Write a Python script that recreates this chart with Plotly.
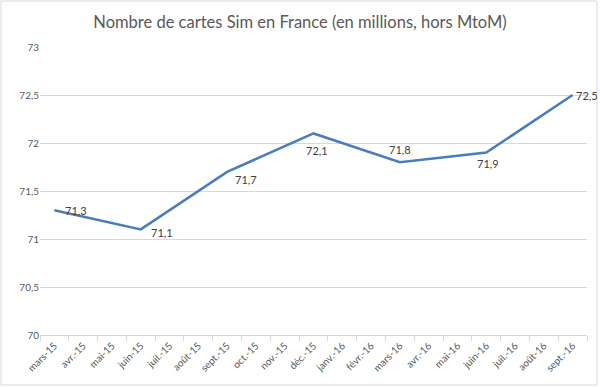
import plotly.graph_objects as go

months = ["mars-15", "avr.-15", "mai-15", "juin-15", "juil.-15", "août-15", "sept.-15",
          "oct.-15", "nov.-15", "déc.-15", "janv.-16", "févr.-16", "mars-16", "avr.-16",
          "mai-16", "juin-16", "juil.-16", "août-16", "sept.-16"]
values = [71.3, None, None, 71.1, None, None, 71.7, None, None, 72.1, None, None,
          71.8, None, None, 71.9, None, None, 72.5]
y_ticks = [70, 70.5, 71, 71.5, 72, 72.5, 73]
y_ticktext = ["70", "70,5", "71", "71,5", "72", "72,5", "73"]

# label offsets (pixels) for each data point, in order of the non-missing values
label_dx = [22, 21, 19, 3, 0, 2, 14]
label_dy = [0, -3, -8, -17, 13, -11, 0]

fig = go.Figure()
fig.add_trace(go.Scatter(
    x=months, y=values, mode="lines", connectgaps=True,
    line=dict(color="#4a7ebb", width=2.6),
    showlegend=False, hoverinfo="x+y",
))

annotations = []
k = 0
for m, v in zip(months, values):
    if v is None:
        continue
    annotations.append(dict(
        x=m, y=v, xref="x", yref="y", text=f"{v:.1f}".replace(".", ","),
        showarrow=False, xshift=label_dx[k], yshift=label_dy[k],
        font=dict(family="Lato, Open Sans, sans-serif", size=11, color="#404040")))
    k += 1

fig.update_layout(
    width=600, height=387,
    margin=dict(l=40, r=13, t=47, b=52, autoexpand=False),
    paper_bgcolor="white", plot_bgcolor="white",
    title=dict(text="Nombre de cartes Sim en France (en millions, hors MtoM)",
               x=0.5, xref="container", xanchor="center", y=1 - 22 / 387, yref="container",
               yanchor="middle",
               font=dict(family="Lato, Open Sans, sans-serif", size=16.5, color="#595959")),
    font=dict(family="Lato, Open Sans, sans-serif", color="#595959"),
    xaxis=dict(type="category", range=[-0.5, 18.5], tickangle=-45, automargin=False,
               tickson="boundaries", ticks="outside", ticklen=5, tickcolor="#d9d9d9",
               showgrid=False, showline=True, linecolor="#d9d9d9", linewidth=1,
               tickfont=dict(size=10, color="#595959")),
    yaxis=dict(range=[70, 73], tickvals=y_ticks, ticktext=y_ticktext, automargin=False,
               showgrid=True, gridcolor="#d9d9d9", gridwidth=1, zeroline=False,
               showline=False, ticks="", tickfont=dict(size=10, color="#595959")),
    annotations=annotations,
    shapes=[dict(type="rect", xref="paper", yref="paper", x0=-39/547, x1=1+10/547,
                 y0=-50/288, y1=1+46/288, line=dict(color="#d9d9d9", width=1))],
)

fig.write_html("out.html", config={"displayModeBar": False},
               post_script="document.body.style.margin='0';document.body.style.padding='0';")
